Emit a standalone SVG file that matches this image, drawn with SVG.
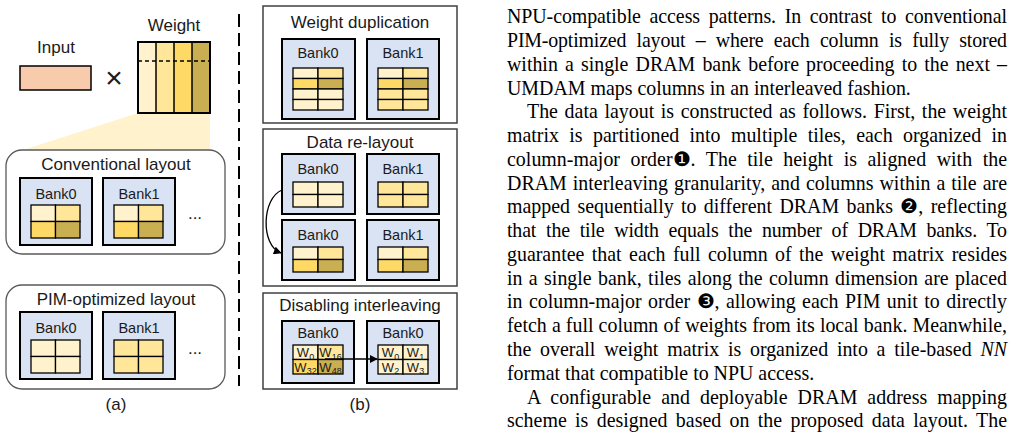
<svg xmlns="http://www.w3.org/2000/svg" width="1017" height="434" viewBox="0 0 1017 434">
<style>
.sans{font-family:"Liberation Sans",Arial,sans-serif;fill:#1a1a1a}
.t{font-size:17px;text-anchor:middle}
.bk{font-size:14.5px;text-anchor:middle}
.w{font-size:13px;text-anchor:middle}
.bank{fill:#DAE3F3;stroke:#000;stroke-width:2}
.grid{stroke:#000;stroke-width:1.3}
.c0{fill:#FFF2CC}.c1{fill:#FFE699}.c2{fill:#FFD966}.c3{fill:#C9AE52}
.rbox{fill:#fff;stroke:#595959;stroke-width:1.3}
.sbox{fill:#fff;stroke:#404040;stroke-width:1.5}
.p{font-family:"Liberation Serif","Times New Roman","DejaVu Serif",serif;font-size:19.9px;fill:#000}
</style>
<defs>
<marker id="ah" viewBox="0 0 10 10" refX="9" refY="5" markerWidth="8" markerHeight="8" markerUnits="userSpaceOnUse" orient="auto">
<path d="M0,0 L10,5 L0,10 z" fill="#000"/>
</marker>
</defs>

<!-- Panel (a) -->
<g id="input">
<text class="sans t" x="56" y="53">Input</text>
<rect x="20" y="66" width="71" height="24" fill="#F8CBAD" stroke="#000" stroke-width="1.5"/>
</g>
<text class="sans" x="114" y="88" font-size="30" text-anchor="middle" fill="#404040">×</text>
<g id="weight">
<text class="sans t" x="174" y="31">Weight</text>
<polygon points="138,113 210,113 210,151 20,151" fill="#FFF2CC"/>
<rect x="138" y="42" width="18" height="71" class="c0"/>
<rect x="156" y="42" width="18" height="71" class="c1"/>
<rect x="174" y="42" width="18" height="71" class="c2"/>
<rect x="192" y="42" width="18" height="71" class="c3"/>
<path d="M156,42V113M174,42V113M192,42V113" stroke="#000" stroke-width="1.5"/>
<line x1="138" y1="61" x2="210" y2="61" stroke="#000" stroke-width="1.3" stroke-dasharray="4 3"/>
<rect x="138" y="42" width="72" height="71" fill="none" stroke="#000" stroke-width="2"/>
</g>

<g id="conventional">
<rect class="rbox" x="6" y="150" width="219" height="104" rx="16"/>
<text class="sans t" x="116" y="170">Conventional layout</text>
<rect class="bank" x="20" y="178" width="72" height="67"/>
<text class="sans bk" x="56" y="199">Bank0</text>
<g class="grid">
<rect x="31" y="205" width="24.5" height="16.5" class="c0"/><rect x="55.5" y="205" width="24.5" height="16.5" class="c1"/>
<rect x="31" y="221.5" width="24.5" height="16.5" class="c2"/><rect x="55.5" y="221.5" width="24.5" height="16.5" class="c3"/>
</g>
<rect class="bank" x="103" y="178" width="72" height="67"/>
<text class="sans bk" x="139" y="199">Bank1</text>
<g class="grid">
<rect x="114" y="205" width="24.5" height="16.5" class="c0"/><rect x="138.5" y="205" width="24.5" height="16.5" class="c1"/>
<rect x="114" y="221.5" width="24.5" height="16.5" class="c2"/><rect x="138.5" y="221.5" width="24.5" height="16.5" class="c3"/>
</g>
<text class="sans t" x="195" y="219">...</text>
</g>

<g id="pim">
<rect class="rbox" x="6" y="285" width="219" height="104" rx="16"/>
<text class="sans t" x="116" y="305">PIM-optimized layout</text>
<rect class="bank" x="20" y="312" width="72" height="67"/>
<text class="sans bk" x="56" y="333">Bank0</text>
<g class="grid">
<rect x="31" y="340" width="24.5" height="16.5" class="c0"/><rect x="55.5" y="340" width="24.5" height="16.5" class="c0"/>
<rect x="31" y="356.5" width="24.5" height="16.5" class="c0"/><rect x="55.5" y="356.5" width="24.5" height="16.5" class="c0"/>
</g>
<rect class="bank" x="103" y="312" width="72" height="67"/>
<text class="sans bk" x="139" y="333">Bank1</text>
<g class="grid">
<rect x="114" y="340" width="24.5" height="16.5" class="c1"/><rect x="138.5" y="340" width="24.5" height="16.5" class="c1"/>
<rect x="114" y="356.5" width="24.5" height="16.5" class="c1"/><rect x="138.5" y="356.5" width="24.5" height="16.5" class="c1"/>
</g>
<text class="sans t" x="195" y="354">...</text>
</g>
<text class="sans t" x="116" y="410">(a)</text>

<line x1="239" y1="14" x2="239" y2="386" stroke="#000" stroke-width="2" stroke-dasharray="13 6"/>

<!-- Panel (b) -->
<g id="dup">
<rect class="sbox" x="263" y="6" width="194" height="117"/>
<text class="sans t" x="360" y="28">Weight duplication</text>
<rect class="bank" x="282" y="39" width="73" height="80"/>
<text class="sans bk" x="318" y="58">Bank0</text>
<g class="grid">
<rect x="293" y="68" width="25" height="10.5" class="c0"/><rect x="318" y="68" width="25" height="10.5" class="c1"/>
<rect x="293" y="78.5" width="25" height="10.5" class="c2"/><rect x="318" y="78.5" width="25" height="10.5" class="c3"/>
<rect x="293" y="89" width="25" height="10.5" class="c0"/><rect x="318" y="89" width="25" height="10.5" class="c0"/>
<rect x="293" y="99.5" width="25" height="10.5" class="c0"/><rect x="318" y="99.5" width="25" height="10.5" class="c0"/>
</g>
<rect class="bank" x="367" y="39" width="72" height="80"/>
<text class="sans bk" x="403" y="58">Bank1</text>
<g class="grid">
<rect x="378" y="68" width="25" height="10.5" class="c0"/><rect x="403" y="68" width="25" height="10.5" class="c1"/>
<rect x="378" y="78.5" width="25" height="10.5" class="c2"/><rect x="403" y="78.5" width="25" height="10.5" class="c3"/>
<rect x="378" y="89" width="25" height="10.5" class="c1"/><rect x="403" y="89" width="25" height="10.5" class="c1"/>
<rect x="378" y="99.5" width="25" height="10.5" class="c1"/><rect x="403" y="99.5" width="25" height="10.5" class="c1"/>
</g>
</g>

<g id="relayout">
<rect class="sbox" x="263" y="129" width="194" height="157"/>
<text class="sans t" x="360" y="148">Data re-layout</text>
<rect class="bank" x="282" y="154" width="73" height="60"/>
<text class="sans bk" x="318" y="174">Bank0</text>
<g class="grid">
<rect x="293" y="182" width="25" height="12.5" class="c0"/><rect x="318" y="182" width="25" height="12.5" class="c0"/>
<rect x="293" y="194.5" width="25" height="12.5" class="c0"/><rect x="318" y="194.5" width="25" height="12.5" class="c0"/>
</g>
<rect class="bank" x="367" y="154" width="72" height="60"/>
<text class="sans bk" x="403" y="174">Bank1</text>
<g class="grid">
<rect x="378" y="182" width="25" height="12.5" class="c1"/><rect x="403" y="182" width="25" height="12.5" class="c1"/>
<rect x="378" y="194.5" width="25" height="12.5" class="c1"/><rect x="403" y="194.5" width="25" height="12.5" class="c1"/>
</g>
<rect class="bank" x="282" y="220" width="73" height="60"/>
<text class="sans bk" x="318" y="240">Bank0</text>
<g class="grid">
<rect x="293" y="247" width="25" height="12.5" class="c0"/><rect x="318" y="247" width="25" height="12.5" class="c1"/>
<rect x="293" y="259.5" width="25" height="12.5" class="c2"/><rect x="318" y="259.5" width="25" height="12.5" class="c3"/>
</g>
<rect class="bank" x="367" y="220" width="72" height="60"/>
<text class="sans bk" x="403" y="240">Bank1</text>
<g class="grid">
<rect x="378" y="247" width="25" height="12.5" class="c0"/><rect x="403" y="247" width="25" height="12.5" class="c1"/>
<rect x="378" y="259.5" width="25" height="12.5" class="c2"/><rect x="403" y="259.5" width="25" height="12.5" class="c3"/>
</g>
</g>

<g id="interleave">
<rect class="sbox" x="263" y="293" width="194" height="96"/>
<text class="sans t" x="360" y="311">Disabling interleaving</text>
<rect class="bank" x="282" y="321" width="72" height="62"/>
<text class="sans bk" x="318" y="338">Bank0</text>
<g class="grid">
<rect x="293" y="345" width="25" height="14.5" class="c0"/><rect x="318" y="345" width="25" height="14.5" class="c1"/>
<rect x="293" y="359.5" width="25" height="14.5" class="c2"/><rect x="318" y="359.5" width="25" height="14.5" class="c3"/>
</g>
<text class="sans w" x="305.5" y="357">W<tspan font-size="9" dy="2.5">0</tspan></text>
<text class="sans w" x="330.5" y="357">W<tspan font-size="9" dy="2.5">16</tspan></text>
<text class="sans w" x="305.5" y="371.5">W<tspan font-size="9" dy="2.5">32</tspan></text>
<text class="sans w" x="330.5" y="371.5">W<tspan font-size="9" dy="2.5">48</tspan></text>
<rect class="bank" x="367" y="321" width="72" height="62"/>
<text class="sans bk" x="403" y="338">Bank0</text>
<g class="grid">
<rect x="378" y="345" width="25" height="14.5" class="c0"/><rect x="403" y="345" width="25" height="14.5" class="c0"/>
<rect x="378" y="359.5" width="25" height="14.5" class="c0"/><rect x="403" y="359.5" width="25" height="14.5" class="c0"/>
</g>
<text class="sans w" x="390.5" y="357">W<tspan font-size="9" dy="2.5">0</tspan></text>
<text class="sans w" x="415.5" y="357">W<tspan font-size="9" dy="2.5">1</tspan></text>
<text class="sans w" x="390.5" y="371.5">W<tspan font-size="9" dy="2.5">2</tspan></text>
<text class="sans w" x="415.5" y="371.5">W<tspan font-size="9" dy="2.5">3</tspan></text>
</g>
<text class="sans t" x="360" y="410">(b)</text>

<g id="connectors" fill="none" stroke="#000" stroke-width="1.3">
<path d="M282,190 C262,198 260,245 281,253" marker-end="url(#ah)"/>
<line x1="325" y1="359" x2="377" y2="359" marker-end="url(#ah)"/>
</g>

<!-- Body text -->
<g id="body" class="p">
<text x="507" y="23.3" word-spacing="3.77" textLength="500" lengthAdjust="spacing">NPU-compatible access patterns. In contrast to conventional</text>
<text x="507" y="47.1" word-spacing="5.57" textLength="500" lengthAdjust="spacing">PIM-optimized layout – where each column is fully stored</text>
<text x="507" y="70.8" word-spacing="2.14" textLength="500" lengthAdjust="spacing">within a single DRAM bank before proceeding to the next –</text>
<text x="507" y="94.6">UMDAM maps columns in an interleaved fashion.</text>
<text x="527" y="118.3" word-spacing="1.7" textLength="480" lengthAdjust="spacing">The data layout is constructed as follows. First, the weight</text>
<text x="507" y="142.1" word-spacing="5.36" textLength="500" lengthAdjust="spacing">matrix is partitioned into multiple tiles, each organized in</text>
<text x="507" y="165.9" word-spacing="5.5" textLength="500" lengthAdjust="spacing">column-major order❶. The tile height is aligned with the</text>
<text x="507" y="189.6" word-spacing="0.94" textLength="500" lengthAdjust="spacing">DRAM interleaving granularity, and columns within a tile are</text>
<text x="507" y="213.4" word-spacing="2.4" textLength="500" lengthAdjust="spacing">mapped sequentially to different DRAM banks ❷, reflecting</text>
<text x="507" y="237.1" word-spacing="4.95" textLength="500" lengthAdjust="spacing">that the tile width equals the number of DRAM banks. To</text>
<text x="507" y="260.9" word-spacing="2.43" textLength="500" lengthAdjust="spacing">guarantee that each full column of the weight matrix resides</text>
<text x="507" y="284.7" word-spacing="1.42" textLength="500" lengthAdjust="spacing">in a single bank, tiles along the column dimension are placed</text>
<text x="507" y="308.4" word-spacing="1.5" textLength="500" lengthAdjust="spacing">in column-major order ❸, allowing each PIM unit to directly</text>
<text x="507" y="332.2" word-spacing="0.15" textLength="500" lengthAdjust="spacing">fetch a full column of weights from its local bank. Meanwhile,</text>
<text x="507" y="355.9" word-spacing="3.79" textLength="500" lengthAdjust="spacing">the overall weight matrix is organized into a tile-based <tspan font-style="italic">NN</tspan></text>
<text x="507" y="379.7">format that compatible to NPU access.</text>
<text x="527" y="403.5" word-spacing="5.0" textLength="480" lengthAdjust="spacing">A configurable and deployable DRAM address mapping</text>
<text x="507" y="427.2" word-spacing="3.36" textLength="500" lengthAdjust="spacing">scheme is designed based on the proposed data layout. The</text>
</g>
</svg>
